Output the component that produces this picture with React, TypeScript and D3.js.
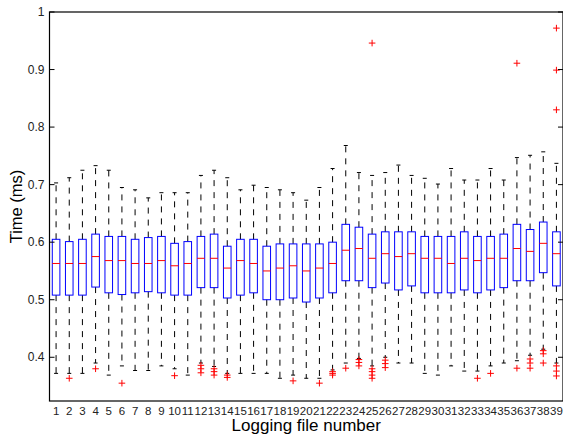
import {useEffect} from "react";
import * as d3 from "d3";

// One entry per logging file (1..39), values in ms
const files = d3.range(1, 40);
const whiskerHigh = [0.703, 0.712, 0.725, 0.733, 0.725, 0.695, 0.691, 0.677, 0.686, 0.686, 0.686, 0.716, 0.725, 0.712, 0.691, 0.699, 0.695, 0.691, 0.686, 0.673, 0.695, 0.728, 0.768, 0.721, 0.716, 0.721, 0.734, 0.716, 0.711, 0.701, 0.728, 0.708, 0.708, 0.728, 0.708, 0.747, 0.751, 0.757, 0.737];
const q3 = [0.605, 0.601, 0.605, 0.614, 0.61, 0.61, 0.605, 0.608, 0.61, 0.598, 0.601, 0.61, 0.614, 0.593, 0.605, 0.605, 0.593, 0.597, 0.597, 0.597, 0.597, 0.6, 0.631, 0.626, 0.614, 0.618, 0.618, 0.618, 0.61, 0.61, 0.61, 0.618, 0.61, 0.61, 0.614, 0.631, 0.622, 0.635, 0.618];
const medians = [0.563, 0.563, 0.563, 0.575, 0.568, 0.568, 0.563, 0.563, 0.568, 0.559, 0.563, 0.572, 0.572, 0.555, 0.568, 0.563, 0.55, 0.555, 0.559, 0.55, 0.555, 0.563, 0.586, 0.589, 0.572, 0.58, 0.575, 0.58, 0.572, 0.572, 0.563, 0.572, 0.568, 0.572, 0.572, 0.589, 0.584, 0.598, 0.58];
const q1 = [0.508, 0.508, 0.508, 0.522, 0.512, 0.509, 0.512, 0.514, 0.512, 0.508, 0.508, 0.521, 0.521, 0.503, 0.508, 0.512, 0.5, 0.5, 0.503, 0.496, 0.503, 0.512, 0.533, 0.533, 0.521, 0.529, 0.517, 0.524, 0.512, 0.512, 0.512, 0.517, 0.512, 0.517, 0.521, 0.533, 0.533, 0.547, 0.524];
const whiskerLow = [0.372, 0.372, 0.372, 0.39, 0.369, 0.385, 0.377, 0.377, 0.385, 0.38, 0.369, 0.39, 0.384, 0.372, 0.372, 0.372, 0.372, 0.3635, 0.369, 0.3635, 0.3635, 0.378, 0.39, 0.398, 0.385, 0.4, 0.39, 0.39, 0.372, 0.369, 0.385, 0.376, 0.376, 0.385, 0.39, 0.394, 0.4035, 0.414, 0.39];
const outliers: number[][] = [
  [], [0.3635], [], [0.38], [], [0.355], [], [], [], [0.368],
  [], [0.386, 0.38, 0.373], [0.38, 0.375, 0.369], [0.369, 0.365], [], [], [], [], [0.359], [],
  [0.355], [0.375, 0.372, 0.369], [0.381], [0.396, 0.391, 0.385], [0.946, 0.38, 0.375, 0.369, 0.3635], [0.395, 0.389, 0.382], [], [], [], [],
  [], [], [0.3635], [0.372], [], [0.911, 0.381], [0.397, 0.39, 0.381], [0.4115, 0.406, 0.39], [0.972, 0.899, 0.83, 0.385, 0.376, 0.3675],
];
const yTicks = [0.4, 0.5, 0.6, 0.7, 0.8, 0.9, 1];

const width = 563;
const height = 437;
const left = 49.5;
const right = 563;
const top = 12;
const bottom = 401;
const font = "'Liberation Sans', Arial, Helvetica, sans-serif";

export default function App() {
  useEffect(() => {
    document.body.style.margin = "0";
  }, []);

  const x = d3.scaleLinear().domain([0.5, 39.5]).range([left, right]);
  const y = d3.scaleLinear().domain([0.324, 1]).range([bottom, top]);
  const boxW = 7.6;
  const capW = 4;

  return (
    <svg width={width} height={height} style={{display: "block", background: "white"}}>
      <defs>
        <clipPath id="plot">
          <rect x={left} y={top - 2} width={right - left} height={bottom - top + 4} />
        </clipPath>
      </defs>

      <g clipPath="url(#plot)">
        {files.map((f, i) => {
          const cx = x(f);
          return (
            <g key={f}>
              {/* whiskers */}
              <line x1={cx} x2={cx} y1={y(q3[i])} y2={y(whiskerHigh[i])} stroke="#000" strokeDasharray="6 6" />
              <line x1={cx} x2={cx} y1={y(q1[i])} y2={y(whiskerLow[i])} stroke="#000" strokeDasharray="6 6" />
              <line x1={cx - capW / 2} x2={cx + capW / 2} y1={y(whiskerHigh[i])} y2={y(whiskerHigh[i])} stroke="#000" />
              <line x1={cx - capW / 2} x2={cx + capW / 2} y1={y(whiskerLow[i])} y2={y(whiskerLow[i])} stroke="#000" />
              {/* box */}
              <rect x={cx - boxW / 2} y={y(q3[i])} width={boxW} height={y(q1[i]) - y(q3[i])} fill="none" stroke="#0000ff" />
              <line x1={cx - boxW / 2} x2={cx + boxW / 2} y1={y(medians[i])} y2={y(medians[i])} stroke="#ff0000" />
              {/* outliers */}
              {outliers[i].map((v, j) => (
                <path key={j} d={`M${cx - 3.3},${y(v)}H${cx + 3.3}M${cx},${y(v) - 3.3}V${y(v) + 3.3}`} stroke="#ff0000" />
              ))}
            </g>
          );
        })}
      </g>

      {/* axes frame */}
      <rect x={left} y={top} width={right - left} height={bottom - top} fill="none" stroke="#000" strokeWidth={1.2} />
      {yTicks.map((t) => (
        <g key={t}>
          <line x1={left} x2={left + 5} y1={y(t)} y2={y(t)} stroke="#000" />
          <line x1={right - 5} x2={right} y1={y(t)} y2={y(t)} stroke="#000" />
          <text x={left - 5} y={y(t)} dy="0.35em" textAnchor="end" fontFamily={font} fontSize={12} fill="#222">
            {d3.format("")(t)}
          </text>
        </g>
      ))}
      {files.map((f) => (
        <text key={f} x={x(f)} y={415} textAnchor="middle" fontFamily={font} fontSize={11.5} fill="#222">
          {f}
        </text>
      ))}

      <text x={(left + right) / 2} y={431} textAnchor="middle" fontFamily={font} fontSize={17} fill="#000">
        Logging file number
      </text>
      <text transform={`translate(22,${(top + bottom) / 2}) rotate(-90)`} textAnchor="middle" fontFamily={font} fontSize={16.5} fill="#000">
        Time (ms)
      </text>
    </svg>
  );
}
